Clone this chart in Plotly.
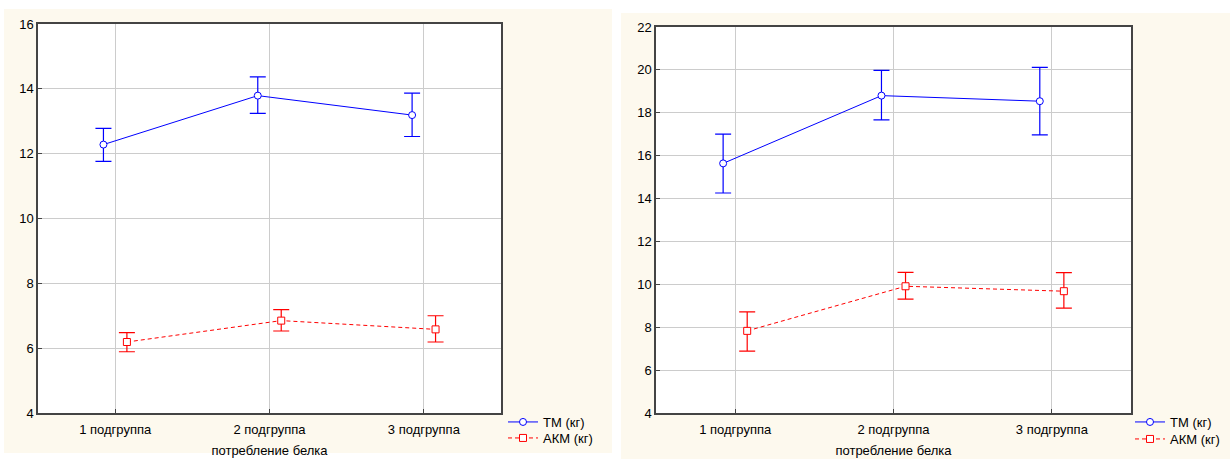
import numpy as np
import plotly.graph_objects as go

categories = ["1 подгруппа", "2 подгруппа", "3 подгруппа"]
x_title = "потребление белка"
series_names = ["ТМ (кг)", "АКМ (кг)"]

# Left chart
left_tm = [12.28, 13.79, 13.19]
left_tm_hi = [12.78, 14.37, 13.87]
left_tm_lo = [11.76, 13.24, 12.53]
left_akm = [6.19, 6.85, 6.58]
left_akm_hi = [6.48, 7.19, 7.00]
left_akm_lo = [5.89, 6.53, 6.19]

# Right chart
right_tm = [15.64, 18.80, 18.54]
right_tm_hi = [17.00, 19.98, 20.12]
right_tm_lo = [14.26, 17.67, 16.97]
right_akm = [7.83, 9.91, 9.68]
right_akm_hi = [8.72, 10.56, 10.55]
right_akm_lo = [6.89, 9.31, 8.89]

left_yticks = [4, 6, 8, 10, 12, 14, 16]
right_yticks = [4, 6, 8, 10, 12, 14, 16, 18, 20, 22]

W, H = 1230, 459
def px(x):
    return x / W
def py(y):
    return 1 - y / H

FONT = "Liberation Sans, Arial, sans-serif"
BLUE = "#0000ff"
RED = "#ff0000"
CREAM = "#fdf9ee"

fig = go.Figure()
idx = np.arange(len(categories))
off = 0.076

def add_pair(tm, tm_hi, tm_lo, akm, akm_hi, akm_lo, xa, ya, leg_tm, leg_akm):
    tm = np.array(tm); akm = np.array(akm)
    fig.add_trace(go.Scatter(
        x=idx - off, y=tm, mode="lines+markers", name=series_names[0],
        line=dict(color=BLUE, width=1),
        marker=dict(symbol="circle", size=7, color="white", line=dict(color=BLUE, width=1)),
        error_y=dict(type="data", symmetric=False, array=np.array(tm_hi) - tm,
                     arrayminus=tm - np.array(tm_lo), color=BLUE, thickness=1.2, width=8),
        xaxis=xa, yaxis=ya, legend=leg_tm, showlegend=True))
    fig.add_trace(go.Scatter(
        x=idx + off, y=akm, mode="lines+markers", name=series_names[1],
        line=dict(color=RED, width=1, dash="4px,3px"),
        marker=dict(symbol="square", size=7, color="white", line=dict(color=RED, width=1)),
        error_y=dict(type="data", symmetric=False, array=np.array(akm_hi) - akm,
                     arrayminus=akm - np.array(akm_lo), color=RED, thickness=1.2, width=8),
        xaxis=xa, yaxis=ya, legend=leg_akm, showlegend=True))

add_pair(left_tm, left_tm_hi, left_tm_lo, left_akm, left_akm_hi, left_akm_lo, "x", "y", "legend", "legend3")
add_pair(right_tm, right_tm_hi, right_tm_lo, right_akm, right_akm_hi, right_akm_lo, "x2", "y2", "legend2", "legend4")

axis_common = dict(showgrid=True, gridcolor="#cccccc", gridwidth=1,
                   showline=True, linecolor="#444444", linewidth=1.5, mirror=True,
                   ticks="inside", ticklen=4, tickcolor="#444444", automargin=False,
                   tickfont=dict(family=FONT, size=13, color="black"), zeroline=False)

def leg(x, y):
    return dict(x=px(x), y=py(y), xanchor="left", yanchor="top", bgcolor="rgba(0,0,0,0)",
                font=dict(family=FONT, size=13), itemwidth=30, visible=True)

fig.update_layout(
    width=W, height=H, margin=dict(l=0, r=0, t=0, b=0),
    showlegend=True,
    paper_bgcolor=CREAM, plot_bgcolor="white",
    font=dict(family=FONT, size=13, color="black"),
    xaxis=dict(domain=[px(38), px(501)], range=[-0.5, 2.5], tickvals=idx, ticktext=categories,
               anchor="y", ticklabelstandoff=4,
               title=dict(text=x_title, standoff=10, font=dict(size=13)), **axis_common),
    yaxis=dict(domain=[py(413), py(24)], range=[4, 16], tickvals=left_yticks, anchor="x", **axis_common),
    xaxis2=dict(domain=[px(656), px(1131)], range=[-0.5, 2.5], tickvals=idx, ticktext=categories,
                anchor="y2", ticklabelstandoff=4,
                title=dict(text=x_title, standoff=10, font=dict(size=13)), **axis_common),
    yaxis2=dict(domain=[py(413), py(27)], range=[4, 22], tickvals=right_yticks, anchor="x2", **axis_common),
    legend=leg(503, 407),
    legend3=leg(503, 423),
    legend2=leg(1130, 407),
    legend4=leg(1130, 424),
    shapes=[
        dict(type="rect", xref="paper", yref="paper", x0=0, x1=1, y0=py(9), y1=1,
             fillcolor="white", line=dict(width=0), layer="below"),
        dict(type="rect", xref="paper", yref="paper", x0=0, x1=px(4), y0=0, y1=1,
             fillcolor="white", line=dict(width=0), layer="below"),
        dict(type="rect", xref="paper", yref="paper", x0=px(612), x1=px(621), y0=0, y1=1,
             fillcolor="white", line=dict(width=0), layer="below"),
        dict(type="rect", xref="paper", yref="paper", x0=px(621), x1=1, y0=py(13), y1=1,
             fillcolor="white", line=dict(width=0), layer="below"),
        dict(type="rect", xref="paper", yref="paper", x0=0, x1=px(612), y0=0, y1=py(453),
             fillcolor="white", line=dict(width=0), layer="below"),
    ],
)

fig.write_html("out.html", config={"displayModeBar": False},
               post_script="document.body.style.margin='0';")
